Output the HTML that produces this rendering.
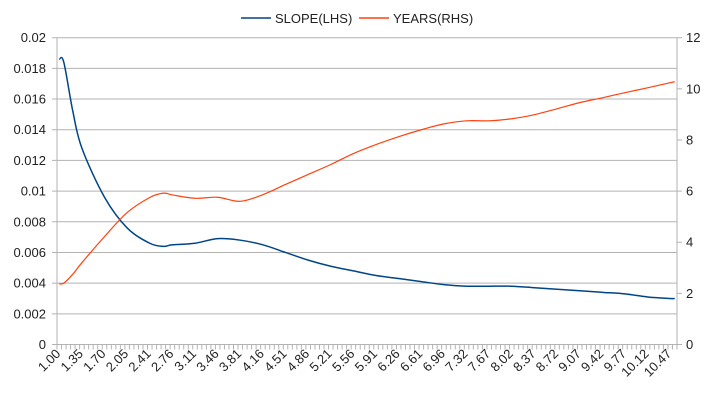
<!DOCTYPE html>
<html><head><meta charset="utf-8"><style>
html,body{margin:0;padding:0;background:#fff;}
svg{display:block;font-family:"Liberation Sans",sans-serif;}
</style></head><body>
<svg id="chart" width="715" height="402" viewBox="0 0 715 402" xmlns="http://www.w3.org/2000/svg">
<g id="grid"></g>
<g id="axes"></g>
<g id="series"></g>
<g id="legend">
<line x1="241" y1="18" x2="271" y2="18" stroke="#004586" stroke-width="1.5"/>
<text x="275" y="23" font-size="13" fill="#222">SLOPE(LHS)</text>
<line x1="359" y1="18" x2="389" y2="18" stroke="#ff420e" stroke-width="1.5"/>
<text x="393" y="23" font-size="13" fill="#222">YEARS(RHS)</text>
</g>
</svg>
<script>
const categoryCount = 137;
const tickLabels = ["1.00","1.35","1.70","2.05","2.41","2.76","3.11","3.46","3.81","4.16","4.51","4.86","5.21","5.56","5.91","6.26","6.61","6.96","7.32","7.67","8.02","8.37","8.72","9.07","9.42","9.77","10.12","10.47"];
const leftTicks = [0, 0.002, 0.004, 0.006, 0.008, 0.01, 0.012, 0.014, 0.016, 0.018, 0.02];
const rightTicks = [0, 2, 4, 6, 8, 10, 12];
const sampleIndex = [0,1,3,5,10,15,20,23,25,30,35,40,45,50,55,60,65,70,75,80,85,90,95,100,105,110,115,120,125,130,135,136];
const slopeValues = [0.0186,0.0184,0.0152,0.0128,0.0096,0.0076,0.0066,0.0064,0.0065,0.0066,0.0069,0.0068,0.0065,0.0060,0.0055,0.0051,0.0048,0.0045,0.0043,0.0041,0.0039,0.0038,0.0038,0.0038,0.0037,0.0036,0.0035,0.0034,0.0033,0.0031,0.0030,0.0030];
const yearsValues = [2.37,2.40,2.75,3.2,4.22,5.16,5.75,5.92,5.85,5.72,5.76,5.6,5.86,6.26,6.65,7.04,7.47,7.82,8.13,8.4,8.63,8.75,8.75,8.83,8.99,9.22,9.46,9.65,9.85,10.04,10.24,10.28];

const NS = 'http://www.w3.org/2000/svg';
const L = 57, R = 677, T = 37.7, B = 344.5;
const step = (R - L) / categoryCount;
const xScale = i => L + (i + 0.5) * step;
const yLeft = v => B - v / 0.02 * (B - T);
const yRight = v => B - v / 12 * (B - T);
function mk(tag, attrs, parent) {
  const e = document.createElementNS(NS, tag);
  for (const k in attrs) e.setAttribute(k, attrs[k]);
  parent.appendChild(e);
  return e;
}
const grid = document.getElementById('grid');
const axes = document.getElementById('axes');
const series = document.getElementById('series');

leftTicks.forEach(v => {
  const y = yLeft(v);
  const g = mk('line', {x1: L - 5, x2: R, y1: y, y2: y, stroke: '#b3b3b3', 'stroke-width': 1}, grid);
  
  
  const t = mk('text', {x: 46, y: y + 4.5, 'text-anchor': 'end', 'font-size': 13, fill: '#222'}, axes);
  t.textContent = String(v);
  
  
});
rightTicks.forEach(v => {
  const y = yRight(v);
  const tk = mk('line', {x1: R, x2: R + 5, y1: y, y2: y, stroke: '#b3b3b3'}, axes);
  
  
  const t = mk('text', {x: 686, y: y + 4.5, 'font-size': 13, fill: '#222'}, axes);
  t.textContent = String(v);
  
  
});
const la = mk('line', {x1: L, x2: L, y1: T, y2: B, stroke: '#b3b3b3'}, axes);


const ra = mk('line', {x1: R, x2: R, y1: T, y2: B, stroke: '#b3b3b3'}, axes);


for (let i = 0; i <= categoryCount; i++) {
  const x = L + i * step;
  const tk = mk('line', {x1: x, x2: x, y1: B, y2: B + 5, stroke: '#b3b3b3'}, axes);
  
  
}
tickLabels.forEach((label, k) => {
  const x = xScale(k * 5) + 2;
  const y = B + 10;
  const t = mk('text', {x: x, y: y, 'text-anchor': 'end', 'font-size': 13, fill: '#222',
    transform: `rotate(-45 ${x} ${y})`}, axes);
  t.textContent = label;
  
  
});
function smoothPath(pts) {
  let d = `M${pts[0][0]},${pts[0][1]}`;
  for (let i = 0; i < pts.length - 1; i++) {
    const p0 = pts[i - 1] || pts[i], p1 = pts[i], p2 = pts[i + 1], p3 = pts[i + 2] || p2;
    const c1 = [p1[0] + (p2[0] - p0[0]) / 6, p1[1] + (p2[1] - p0[1]) / 6];
    const c2 = [p2[0] - (p3[0] - p1[0]) / 6, p2[1] - (p3[1] - p1[1]) / 6];
    d += ` C${c1[0]},${c1[1]} ${c2[0]},${c2[1]} ${p2[0]},${p2[1]}`;
  }
  return d;
}
const slopePts = sampleIndex.map((idx, k) => [xScale(idx), yLeft(slopeValues[k])]);
const yearsPts = sampleIndex.map((idx, k) => [xScale(idx), yRight(yearsValues[k])]);
const sp = mk('path', {d: smoothPath(slopePts), fill: 'none', stroke: '#004586', 'stroke-width': 1.5}, series);


const yp = mk('path', {d: smoothPath(yearsPts), fill: 'none', stroke: '#ff420e', 'stroke-width': 1.2}, series);


</script>
</body></html>
